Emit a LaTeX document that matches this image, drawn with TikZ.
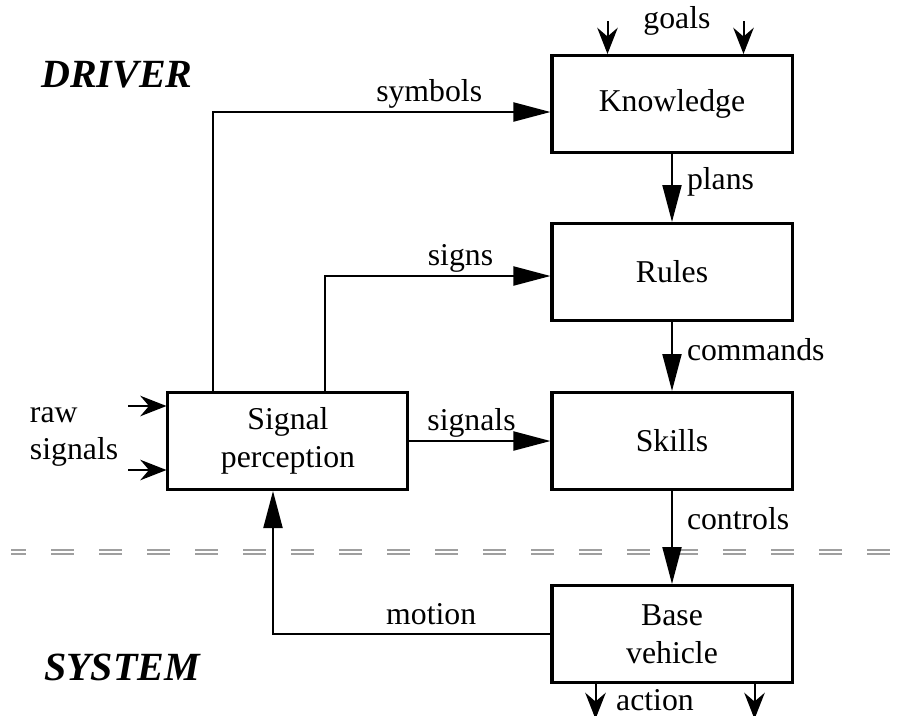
\documentclass[tikz,border=0pt]{standalone}
\usepackage{fontspec}
\setmainfont{Liberation Serif}
\usetikzlibrary{positioning, arrows.meta, calc}

\begin{document}
\begin{tikzpicture}[
    x=0.4pt, y=-0.4pt,
    font=\fontsize{12.7}{15}\selectfont,
    node distance=27.2pt,
    block/.style={draw=black, line width=1.2pt, minimum width=96pt,
                  minimum height=38.8pt, align=center, inner sep=2pt},
    arrow/.style={-{Triangle[length=14.8pt, width=7.6pt]}, line width=0.8pt},
    feed/.style={-{Stealth[length=10.5pt, width=8.2pt, inset=3.5pt]}, line width=0.8pt},
    lbl/.style={inner sep=1pt},
    side/.style={lbl, right=4.6pt, yshift=2.6pt},
    title/.style={font=\fontsize{16}{19}\selectfont\bfseries\itshape},
    divider/.style={draw=gray!75, line width=0.9pt, double=white,
                    double distance=0.8pt, dash pattern=on 9.2pt off 10pt,
                    dash phase=3.2pt},
  ]
  \useasboundingbox (0,0) rectangle (902,715);
  % boxes
  \node[block] (know) at (672,104) {Knowledge};
  \node[block, below=of know] (rules) {Rules};
  \node[block, below=27.6pt of rules] (skills) {Skills};
  \node[block, below=37.2pt of skills] (base) {Base\\vehicle};
  \node[block, left=56.4pt of skills] (perc) {Signal\\perception};
  % titles and free labels
  \node[title] (driver) at (117,75) {DRIVER};
  \node[title] (system) at (122,667) {SYSTEM};
  \node[lbl, align=left, anchor=west] (raw) at (27,437) {raw\\signals};
  \node[lbl] (goals) at ($(know.north)+(5,-33)$) {goals};
  \node[lbl] (action) at ($(base.south)+(-17,16)$) {action};
  % driver / system border
  \coordinate (divL) at (11,552);
  \coordinate (divR) at (902,552);
  \draw[divider] (divL) -- (divR);
  % connectors
  \draw[arrow] ($(perc.north west)+(47,0)$) |- node[lbl, pos=0.82, above] {symbols}
    ($(know.west)+(0,8)$);
  \draw[arrow] ($(perc.north west)+(159,0)$) |- node[lbl, pos=0.8, above] {signs}
    ($(rules.west)+(0,4)$);
  \draw[arrow] (perc.east) -- node[lbl, pos=0.44, above] {signals} (perc.east -| skills.west);
  \draw[arrow] (know) -- node[side] {plans} (rules);
  \draw[arrow] (rules) -- node[side] {commands} (skills);
  \draw[arrow] (skills) -- node[side, pos=0.3, yshift=-2.6pt] {controls} (base);
  \draw[arrow] (base.west) -| node[lbl, pos=0.215, above=2.4pt] {motion}
    ($(perc.south)+(-15,0)$);
  % inputs and outputs
  \coordinate (g1) at ($(know.north west)+(57,-33)$);
  \coordinate (g2) at ($(know.north east)+(-50,-33)$);
  \draw[feed] (g1) -- (g1 |- know.north);
  \draw[feed] (g2) -- (g2 |- know.north);
  \coordinate (a1) at ($(base.south west)+(45,35)$);
  \coordinate (a2) at ($(base.south east)+(-39,35)$);
  \draw[feed] (a1 |- base.south) -- (a1);
  \draw[feed] (a2 |- base.south) -- (a2);
  \coordinate (r1) at ($(perc.west)+(-38,-35)$);
  \coordinate (r2) at ($(perc.west)+(-38,29)$);
  \draw[feed] (r1) -- (r1 -| perc.west);
  \draw[feed] (r2) -- (r2 -| perc.west);
\end{tikzpicture}
\end{document}
